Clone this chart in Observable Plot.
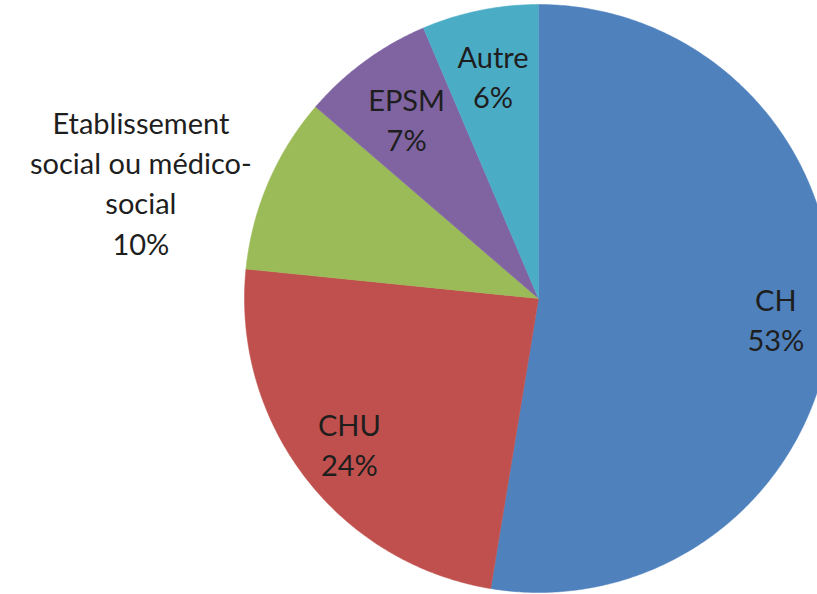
<!DOCTYPE html>
<html>
<head>
<meta charset="utf-8">
<script src="https://cdn.jsdelivr.net/npm/d3@7"></script>
<script src="https://cdn.jsdelivr.net/npm/@observablehq/plot@0.6"></script>
<style>
  html, body { margin: 0; padding: 0; background: #fff; }
  #chart { width: 817px; height: 594px; overflow: hidden; }
</style>
</head>
<body>
<div id="chart"></div>
<script>
// ---- data ----
const categories = ["CH", "CHU", "Etablissement social ou médico-social", "EPSM", "Autre"];
const labelLines = ["CH", "CHU", "Etablissement\nsocial ou médico-\nsocial", "EPSM", "Autre"];
const shares = [52.6, 24.0, 9.7, 7.3, 6.4];
const colors = ["#4F81BD", "#C0504D", "#9BBB59", "#8064A2", "#4BACC6"];

// ---- geometry (unit circle in data space) ----
const W = 817, H = 594, cx = 538, cy = 298, R = 294;
const total = d3.sum(shares);
const slices = [];
let acc = 0;
categories.forEach((name, i) => {
  const a0 = acc / total * 2 * Math.PI;
  acc += shares[i];
  const a1 = acc / total * 2 * Math.PI;
  slices.push({name, a0, a1, value: shares[i], i});
});

const polyPts = [];
for (const s of slices) {
  polyPts.push({name: s.name, x: 0, y: 0});
  const n = Math.max(2, Math.ceil((s.a1 - s.a0) / (Math.PI / 360)));
  for (let k = 0; k <= n; k++) {
    const a = s.a0 + (s.a1 - s.a0) * k / n;
    polyPts.push({name: s.name, x: Math.sin(a), y: Math.cos(a)});
  }
  polyPts.push({name: s.name, x: 0, y: 0});
}

// label placement (radial fraction, angle offset in degrees)
const labelRadius = [0.81, 0.81, 1.41, 0.76, 0.775];
const labelAngleShift = [0, 0, -6.8, 0, 0];
const labels = slices.map(s => {
  const mid = (s.a0 + s.a1) / 2 + labelAngleShift[s.i] * Math.PI / 180;
  const r = labelRadius[s.i];
  return {
    x: r * Math.sin(mid),
    y: r * Math.cos(mid),
    text: labelLines[s.i] + "\n" + Math.round(s.value / total * 100) + "%"
  };
});

const chart = Plot.plot({
  width: W,
  height: H,
  margin: 0,
  x: {domain: [-cx / R, (W - cx) / R], range: [0, W], axis: null},
  y: {domain: [(cy - H) / R, cy / R], range: [H, 0], axis: null},
  color: {domain: categories, range: colors},
  style: {fontFamily: "Lato, 'Open Sans', sans-serif", background: "#fff", overflow: "hidden"},
  marks: [
    Plot.line(polyPts, {x: "x", y: "y", z: "name", fill: "name", stroke: "name", strokeWidth: 0.5, curve: "linear"}),
    Plot.text(labels, {x: "x", y: "y", text: "text", fontSize: 29, lineHeight: 1.39, fill: "#1e1e1e", textAnchor: "middle", lineAnchor: "middle"})
  ]
});
document.getElementById("chart").appendChild(chart);
</script>
</body>
</html>
